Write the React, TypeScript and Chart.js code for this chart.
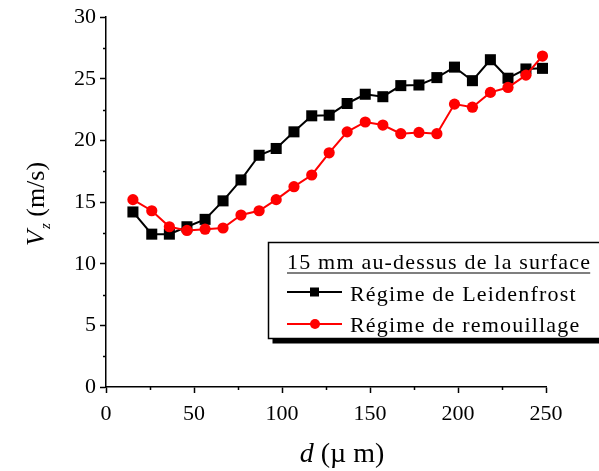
import React, { useEffect, useRef } from "react";
import { Chart, registerables } from "chart.js";

Chart.register(...registerables);

// Droplet diameter d (µm) for each measurement
const diameters = [
  15.3, 26.0, 36.0, 46.0, 56.3, 66.5, 76.7, 87.0, 96.7, 106.8, 116.9, 126.8,
  137.0, 147.3, 157.3, 167.5, 177.8, 188.0, 198.0, 208.2, 218.4, 228.4, 238.6, 248.0,
];

// Vertical velocity Vz (m/s), Leidenfrost regime
const leidenfrost = [
  14.2, 12.4, 12.4, 13.0, 13.6, 15.1, 16.8, 18.8, 19.35, 20.7, 22.0, 22.05,
  23.0, 23.75, 23.55, 24.45, 24.5, 25.1, 25.95, 24.85, 26.55, 25.05, 25.8, 25.85,
];

// Vertical velocity Vz (m/s), rewetting regime
const remouillage = [
  15.2, 14.3, 13.0, 12.7, 12.8, 12.9, 13.95, 14.3, 15.2, 16.25, 17.2, 19.0,
  20.7, 21.5, 21.25, 20.55, 20.65, 20.55, 22.95, 22.7, 23.9, 24.3, 25.3, 26.85,
];

const xTicks = [0, 50, 100, 150, 200, 250];
const yTicks = [0, 5, 10, 15, 20, 25, 30];
const xMinorTicks = [25, 75, 125, 175, 225];
const yMinorTicks = [2.5, 7.5, 12.5, 17.5, 22.5, 27.5];

const legendTitle = "15 mm au-dessus de la surface";
const seriesNames = ["Régime de Leidenfrost", "Régime de remouillage"];

const SERIF = "'Liberation Serif', 'Times New Roman', serif";

const decorations = {
  id: "decorations",
  afterDraw(chart: any) {
    const { ctx, chartArea } = chart;
    const xs = chart.scales.x;
    const ys = chart.scales.y;
    ctx.save();

    // minor tick marks
    ctx.strokeStyle = "#000";
    ctx.lineWidth = 1.5;
    for (const v of xMinorTicks) {
      const px = Math.round(xs.getPixelForValue(v)) + 0.5;
      ctx.beginPath();
      ctx.moveTo(px, chartArea.bottom);
      ctx.lineTo(px, chartArea.bottom + 3);
      ctx.stroke();
    }
    for (const v of yMinorTicks) {
      const py = Math.round(ys.getPixelForValue(v)) + 0.5;
      ctx.beginPath();
      ctx.moveTo(chartArea.left, py);
      ctx.lineTo(chartArea.left - 3, py);
      ctx.stroke();
    }

    // y axis title: V_z (m/s)
    ctx.fillStyle = "#000";
    ctx.textBaseline = "alphabetic";
    ctx.textAlign = "left";
    ctx.save();
    ctx.translate(44, 246);
    ctx.rotate(-Math.PI / 2);
    ctx.font = `italic 26px ${SERIF}`;
    ctx.fillText("V", 0, 0);
    let off = ctx.measureText("V").width;
    ctx.font = `italic 15px ${SERIF}`;
    ctx.fillText("z", off + 1, 6);
    off += ctx.measureText("z").width + 1;
    ctx.font = `26px ${SERIF}`;
    ctx.fillText(" (m/s)", off, 0);
    ctx.restore();

    // x axis title: d (µm)
    ctx.save();
    ctx.font = `italic 28px ${SERIF}`;
    const dW = ctx.measureText("d").width;
    ctx.font = `28px ${SERIF}`;
    const restTxt = " (\u00b5 m)";
    const rW = ctx.measureText(restTxt).width;
    const startX = 342 - (dW + rW) / 2;
    ctx.font = `italic 28px ${SERIF}`;
    ctx.fillText("d", startX, 462);
    ctx.font = `28px ${SERIF}`;
    ctx.fillText(restTxt, startX + dW, 462);
    ctx.restore();

    // legend box with drop shadow
    const bx = 268.5, by = 242.5, bw = 340, bh = 96;
    ctx.fillStyle = "#000";
    ctx.fillRect(bx + 4, by + 5, bw, bh);
    ctx.fillStyle = "#fff";
    ctx.fillRect(bx, by, bw, bh);
    ctx.strokeStyle = "#000";
    ctx.lineWidth = 1.5;
    ctx.strokeRect(bx, by, bw, bh);

    ctx.fillStyle = "#000";
    ctx.font = `22px ${SERIF}`;
    (ctx as any).letterSpacing = "1.2px";
    ctx.fillText(legendTitle, 287, 269);
    const tw = ctx.measureText(legendTitle).width;
    ctx.lineWidth = 1.2;
    ctx.beginPath();
    ctx.moveTo(287, 273);
    ctx.lineTo(287 + tw - 1, 273);
    ctx.stroke();

    const rows = [
      { y: 292, color: "#000", style: "rect", name: seriesNames[0], base: 301 },
      { y: 324, color: "#ff0000", style: "circle", name: seriesNames[1], base: 332 },
    ];
    for (const r of rows) {
      ctx.strokeStyle = r.color;
      ctx.fillStyle = r.color;
      ctx.lineWidth = 2;
      ctx.beginPath();
      ctx.moveTo(287, r.y);
      ctx.lineTo(342, r.y);
      ctx.stroke();
      if (r.style === "rect") {
        ctx.fillRect(310, r.y - 4.5, 9, 9);
      } else {
        ctx.beginPath();
        ctx.arc(315, r.y, 5, 0, Math.PI * 2);
        ctx.fill();
      }
      ctx.fillStyle = "#000";
      ctx.fillText(r.name, 350, r.base);
    }
    (ctx as any).letterSpacing = "0px";
    ctx.restore();
  },
};

export default function App() {
  const canvasRef = useRef<HTMLCanvasElement | null>(null);

  useEffect(() => {
    const canvas = canvasRef.current;
    if (!canvas) return;
    const tickFont = { family: SERIF, size: 22 };
    const chart = new Chart(canvas, {
      type: "line",
      data: {
        datasets: [
          {
            label: seriesNames[0],
            data: diameters.map((d, i) => ({ x: d, y: leidenfrost[i] })),
            borderColor: "#000",
            backgroundColor: "#000",
            borderWidth: 2,
            pointStyle: "rect",
            pointRadius: 7.8,
            pointBorderWidth: 0,
            tension: 0,
            clip: false as any,
            order: 1,
          },
          {
            label: seriesNames[1],
            data: diameters.map((d, i) => ({ x: d, y: remouillage[i] })),
            borderColor: "#ff0000",
            backgroundColor: "#ff0000",
            borderWidth: 2,
            pointStyle: "circle",
            pointRadius: 5.6,
            pointBorderWidth: 0,
            tension: 0,
            clip: false as any,
            order: 0,
          },
        ],
      },
      options: {
        responsive: false,
        animation: false,
        devicePixelRatio: 1,
        layout: { padding: { top: 17, right: 53, left: 0, bottom: 0 } },
        plugins: {
          legend: { display: false },
          tooltip: { enabled: false },
        },
        scales: {
          x: {
            type: "linear",
            position: "bottom",
            min: xTicks[0],
            max: xTicks[xTicks.length - 1],
            afterBuildTicks: (s: any) => {
              s.ticks = xTicks.map((v) => ({ value: v }));
            },
            afterFit: (s: any) => {
              s.height = 84;
            },
            ticks: { font: tickFont, color: "#000", padding: 8, maxRotation: 0 },
            grid: {
              drawOnChartArea: false,
              drawTicks: true,
              tickLength: 6,
              tickColor: "#000",
              tickWidth: 1.5,
            },
            border: { color: "#000", width: 1.5 },
          },
          y: {
            type: "linear",
            min: yTicks[0],
            max: yTicks[yTicks.length - 1],
            afterBuildTicks: (s: any) => {
              s.ticks = yTicks.map((v) => ({ value: v }));
            },
            afterFit: (s: any) => {
              s.width = 106;
            },
            ticks: { font: tickFont, color: "#000", padding: 4 },
            grid: {
              drawOnChartArea: false,
              drawTicks: true,
              tickLength: 6,
              tickColor: "#000",
              tickWidth: 1.5,
            },
            border: { color: "#000", width: 1.5 },
          },
        },
      },
      plugins: [decorations],
    });
    return () => chart.destroy();
  }, []);

  return (
    <div style={{ position: "fixed", left: 0, top: 0, width: 599, height: 471, background: "#fff" }}>
      <canvas ref={canvasRef} width={599} height={471} style={{ width: 599, height: 471 }} />
    </div>
  );
}
